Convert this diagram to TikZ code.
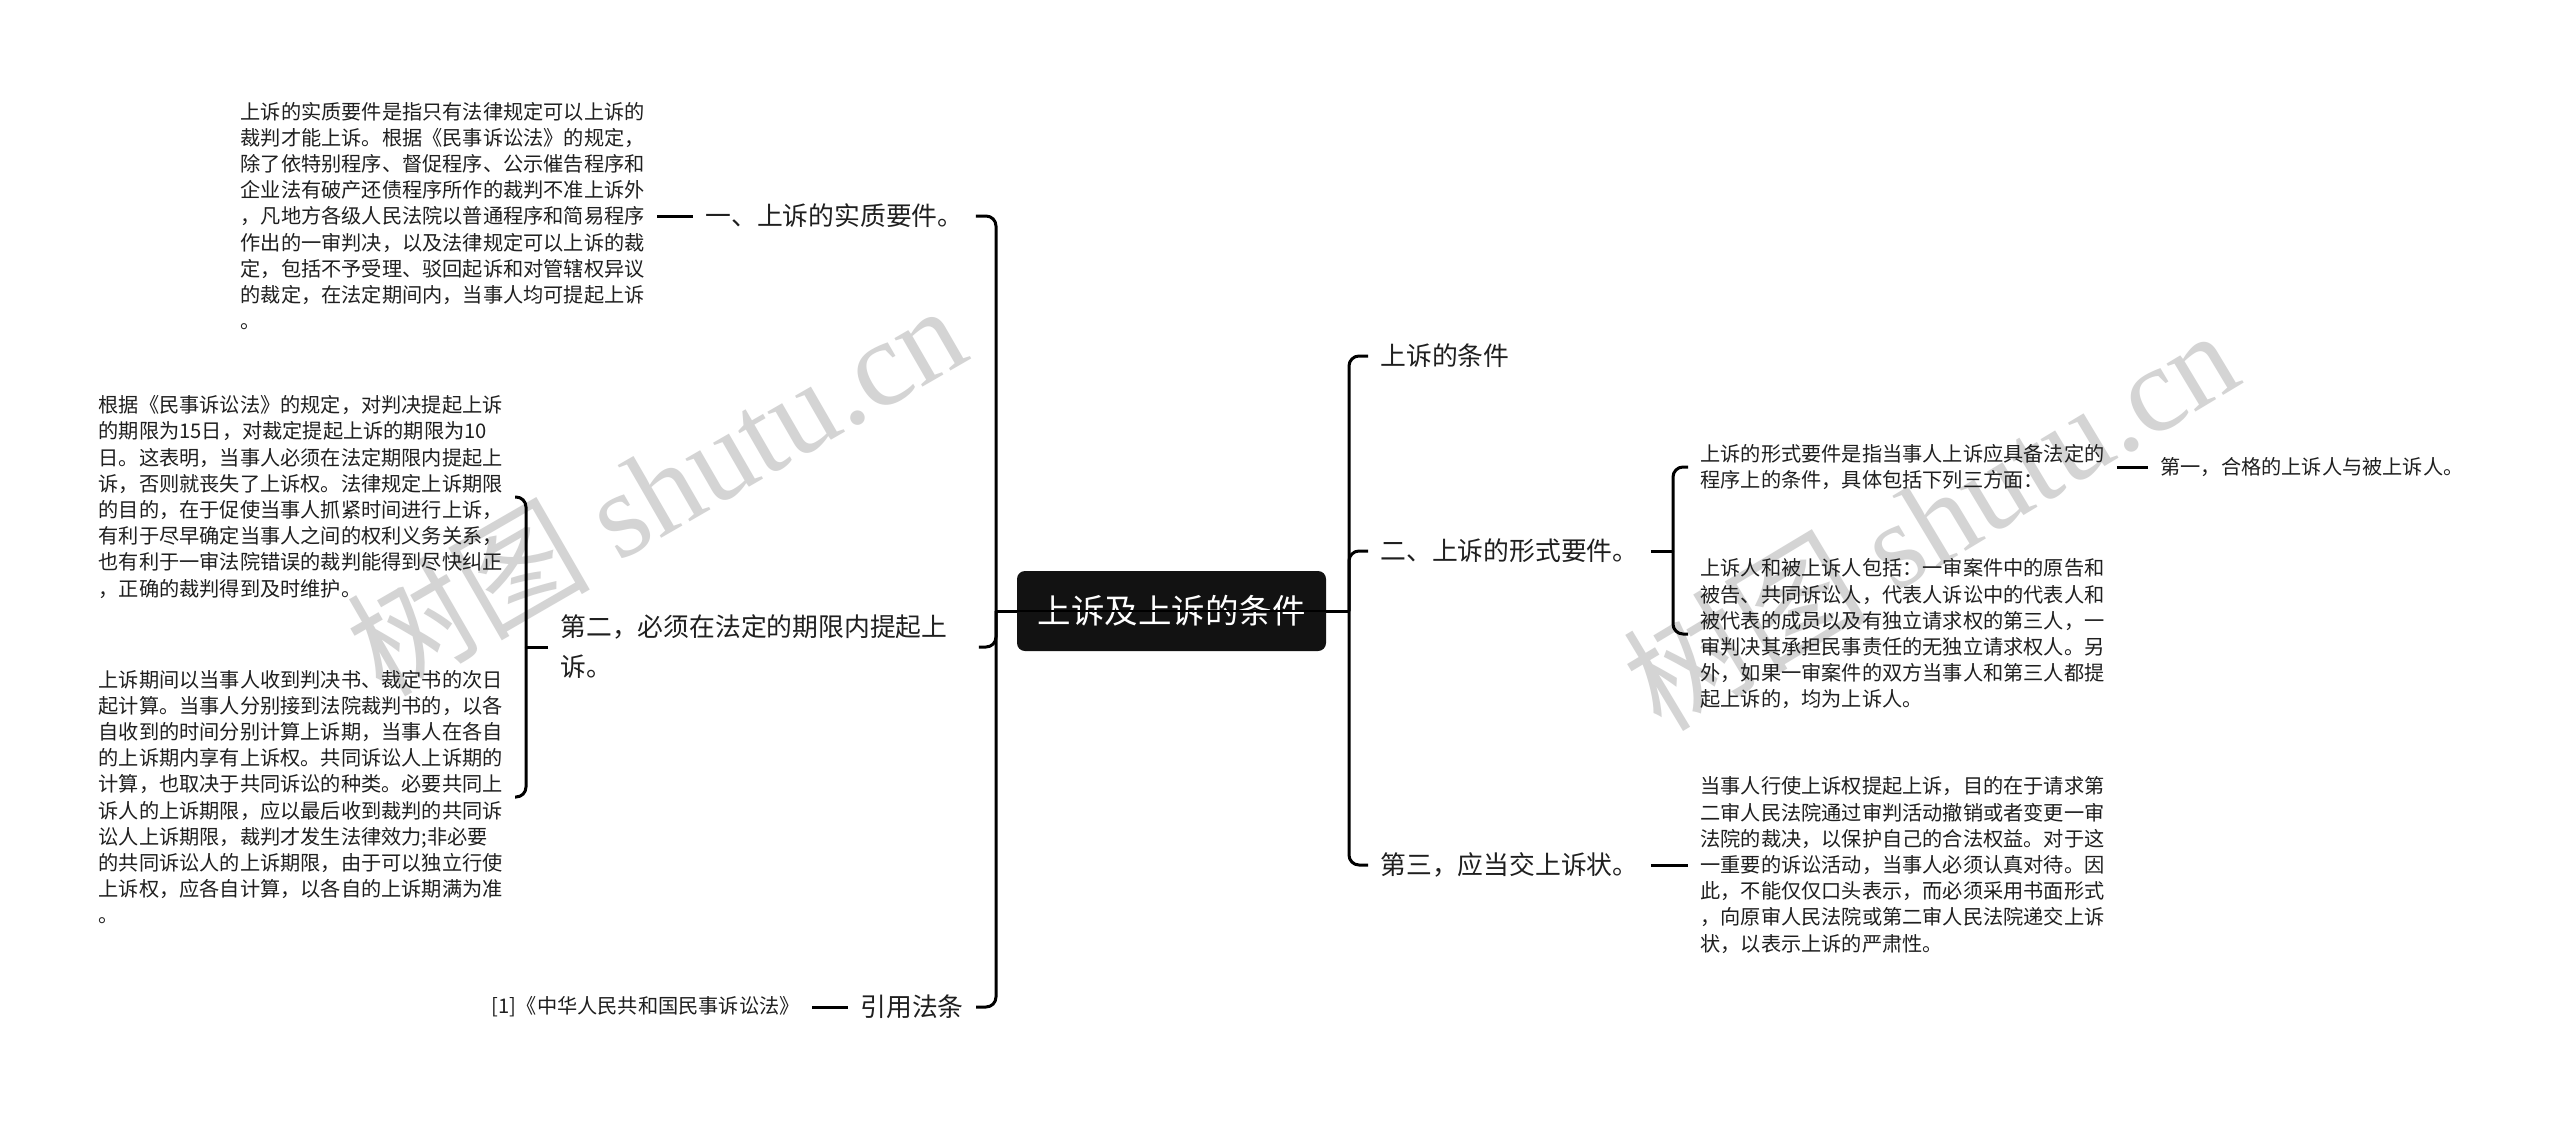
\documentclass[tikz,border=0pt]{standalone}
\usepackage{fontspec}
\setmainfont{Noto Sans CJK SC}
\newfontfamily\wmserif{Liberation Serif}
\begin{document}
\begin{tikzpicture}[x=0.5pt,y=-0.5pt,
  conn/.style={line width=1.5pt, rounded corners=5pt, draw=black},
  leaf/.style={align=left, inner xsep=6pt, inner ysep=1pt, text=black!88, font=\fontsize{10.1pt}{13.1pt}\selectfont},
  branch/.style={align=left, inner xsep=6pt, inner ysep=1pt, text=black!88, font=\fontsize{12.9pt}{20pt}\selectfont},
  rootbox/.style={fill=black!93, text=white, rounded corners=4pt, minimum width=154.5pt, minimum height=40pt, inner sep=0pt, font=\fontsize{16.75pt}{20pt}\selectfont},
  wm/.style={text=black!17, inner sep=0pt, font=\fontsize{61pt}{66pt}\selectfont}]
\useasboundingbox[fill=white] (0,0) rectangle (2560,1125);

% watermarks
\node[wm, rotate=30] (wmA) at (655,488) {树图 {\wmserif shutu.cn}};
\node[wm, rotate=31] (wmB) at (1930,518) {树图 {\wmserif shutu.cn}};

% root
\node[rootbox] (root) at (1171.5,611) {上诉及上诉的条件};

% left side
\node[leaf, anchor=east] (l1) at (657,216) {上诉的实质要件是指只有法律规定可以上诉的\\裁判才能上诉。根据《民事诉讼法》的规定，\\除了依特别程序、督促程序、公示催告程序和\\企业法有破产还债程序所作的裁判不准上诉外\\，凡地方各级人民法院以普通程序和简易程序\\作出的一审判决，以及法律规定可以上诉的裁\\定，包括不予受理、驳回起诉和对管辖权异议\\的裁定，在法定期间内，当事人均可提起上诉\\。};
\node[branch, anchor=west] (b1) at (693,216) {一、上诉的实质要件。};
\node[leaf, anchor=east] (l2) at (515,497) {根据《民事诉讼法》的规定，对判决提起上诉\\的期限为15日，对裁定提起上诉的期限为10\\日。这表明，当事人必须在法定期限内提起上\\诉，否则就丧失了上诉权。法律规定上诉期限\\的目的，在于促使当事人抓紧时间进行上诉，\\有利于尽早确定当事人之间的权利义务关系，\\也有利于一审法院错误的裁判能得到尽快纠正\\，正确的裁判得到及时维护。};
\node[leaf, anchor=east] (l3) at (515,797) {上诉期间以当事人收到判决书、裁定书的次日\\起计算。当事人分别接到法院裁判书的，以各\\自收到的时间分别计算上诉期，当事人在各自\\的上诉期内享有上诉权。共同诉讼人上诉期的\\计算，也取决于共同诉讼的种类。必要共同上\\诉人的上诉期限，应以最后收到裁判的共同诉\\讼人上诉期限，裁判才发生法律效力;非必要\\的共同诉讼人的上诉期限，由于可以独立行使\\上诉权，应各自计算，以各自的上诉期满为准\\。};
\node[branch, anchor=west, text width=203pt] (b2) at (548,647) {第二，必须在法定的期限内提起上\\诉。};
\node[leaf, anchor=east] (ref) at (812,1007) {[1]《中华人民共和国民事诉讼法》};
\node[branch, anchor=west] (b3) at (848,1007) {引用法条};

% right side
\node[branch, anchor=west] (c1) at (1368,356) {上诉的条件};
\node[branch, anchor=west] (c2) at (1368,551) {二、上诉的形式要件。};
\node[branch, anchor=west] (c3) at (1368,865) {第三，应当交上诉状。};
\node[leaf, anchor=west] (d1) at (1688,467) {上诉的形式要件是指当事人上诉应具备法定的\\程序上的条件，具体包括下列三方面：};
\node[leaf, anchor=west] (e1) at (2148,467) {第一，合格的上诉人与被上诉人。};
\node[leaf, anchor=west] (d2) at (1688,634) {上诉人和被上诉人包括：一审案件中的原告和\\被告、共同诉讼人，代表人诉讼中的代表人和\\被代表的成员以及有独立请求权的第三人，一\\审判决其承担民事责任的无独立请求权人。另\\外，如果一审案件的双方当事人和第三人都提\\起上诉的，均为上诉人。};
\node[leaf, anchor=west] (d3) at (1688,865) {当事人行使上诉权提起上诉，目的在于请求第\\二审人民法院通过审判活动撤销或者变更一审\\法院的裁决，以保护自己的合法权益。对于这\\一重要的诉讼活动，当事人必须认真对待。因\\此，不能仅仅口头表示，而必须采用书面形式\\，向原审人民法院或第二审人民法院递交上诉\\状，以表示上诉的严肃性。};

% junctions
\coordinate (Lj) at (996,611);
\coordinate (Rj) at (1349,611);
\coordinate (Lb) at (526,647);
\coordinate (Rb) at (1673,551);

% connectors
\draw[conn] (root.west) -- (Lj);
\draw[conn] (root.east) -- (Rj);
\draw[conn] (Lj) |- (b1.east);
\draw[conn] (Lj) |- (b2.east);
\draw[conn] (Lj) |- (b3.east);
\draw[conn] (l1.east) -- (b1.west);
\draw[conn] (b2.west) -- (Lb);
\draw[conn] (Lb) |- (l2.east);
\draw[conn] (Lb) |- (l3.east);
\draw[conn] (ref.east) -- (b3.west);
\draw[conn] (Rj) |- (c1.west);
\draw[conn] (Rj) |- (c2.west);
\draw[conn] (Rj) |- (c3.west);
\draw[conn] (c2.east) -- (Rb);
\draw[conn] (Rb) |- (d1.west);
\draw[conn] (Rb) |- (d2.west);
\draw[conn] (d1.east) -- (e1.west);
\draw[conn] (c3.east) -- (d3.west);
\draw[line width=1pt] (root.west) -- (root.east);
\end{tikzpicture}
\end{document}
